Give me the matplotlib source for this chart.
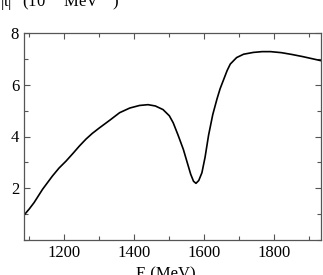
import matplotlib
matplotlib.use("Agg")
import matplotlib.pyplot as plt
from matplotlib.ticker import MultipleLocator

plt.rcParams['font.family'] = ['Liberation Serif', 'DejaVu Serif']
plt.rcParams['mathtext.fontset'] = 'stix'

energy = [1085, 1100, 1114, 1138, 1166, 1185, 1205, 1225, 1243, 1262, 1280, 1300,
          1330, 1358, 1387, 1415, 1439, 1460, 1482, 1500, 1511, 1525, 1540, 1552,
          1561, 1569, 1576, 1584, 1593, 1602, 1612, 1624, 1636, 1645, 1655, 1665,
          1674, 1692, 1712, 1740, 1765, 1789, 1820, 1850, 1880, 1910, 1933]
t2 = [0.96, 1.2, 1.45, 1.96, 2.47, 2.78, 3.05, 3.35, 3.63, 3.9, 4.12, 4.33,
      4.63, 4.92, 5.1, 5.2, 5.23, 5.18, 5.04, 4.8, 4.53, 4.05, 3.5, 2.95,
      2.54, 2.27, 2.19, 2.3, 2.6, 3.2, 4.05, 4.85, 5.45, 5.85, 6.2, 6.55,
      6.8, 7.05, 7.18, 7.25, 7.28, 7.28, 7.24, 7.17, 7.09, 7.0, 6.93]
x_ticks = [1200, 1400, 1600, 1800]
y_ticks = [2, 4, 6, 8]

fig = plt.figure(figsize=(3.23, 2.75), dpi=100)
ax = fig.add_axes([24/323, 1-240/275, 297/323, 207/275])
ax.plot(energy, t2, color='black', lw=1.2)
ax.set_xlim(1085, 1933)
ax.set_ylim(0, 8)
ax.set_xticks(x_ticks)
ax.set_yticks(y_ticks)
ax.xaxis.set_minor_locator(MultipleLocator(100))
ax.yaxis.set_minor_locator(MultipleLocator(1))
ax.tick_params(which='both', direction='in', top=True, right=True,
               labelsize=12, color='#555555', width=0.8)
ax.tick_params(which='major', length=4)
ax.tick_params(which='minor', length=3)
for s in ax.spines.values():
    s.set_color('#555555')
    s.set_linewidth(0.9)

fig.text(0.0, 1-6/275, r'|t|$^{2}$ (10$^{-4}$ MeV$^{-2}$)', fontsize=12, va='baseline', ha='left')
fig.text(166/323, 1-266/275, 'E (MeV)', fontsize=12, va='top', ha='center')

fig.savefig('out.png', dpi=100)
